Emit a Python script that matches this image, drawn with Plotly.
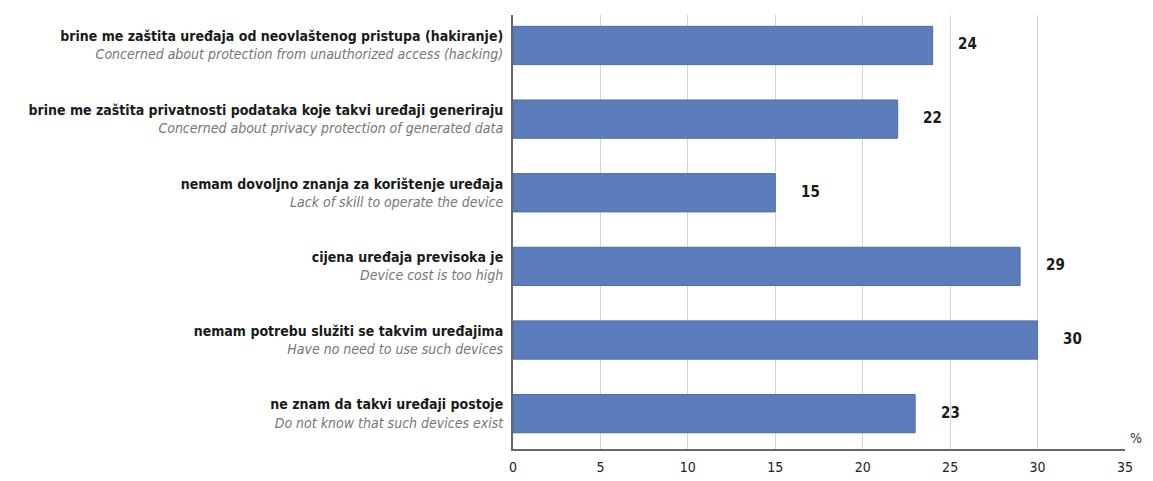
import plotly.graph_objects as go

labels_hr = [
    "brine me zaštita uređaja od neovlaštenog pristupa (hakiranje)",
    "brine me zaštita privatnosti podataka koje takvi uređaji generiraju",
    "nemam dovoljno znanja za korištenje uređaja",
    "cijena uređaja previsoka je",
    "nemam potrebu služiti se takvim uređajima",
    "ne znam da takvi uređaji postoje",
]
labels_en = [
    "Concerned about protection from unauthorized access (hacking)",
    "Concerned about privacy protection of generated data",
    "Lack of skill to operate the device",
    "Device cost is too high",
    "Have no need to use such devices",
    "Do not know that such devices exist",
]
values = [24, 22, 15, 29, 30, 23]
x_ticks = [0, 5, 10, 15, 20, 25, 30, 35]

FONT = "Liberation Sans Narrow, DejaVu Sans Condensed, Roboto Condensed, Arial Narrow, DejaVu Sans, sans-serif"

cats = list(range(len(values)))
ticktext = [
    f"<b>{hr}</b><br><i><span style='color:#767676'>{en}</span></i>"
    for hr, en in zip(labels_hr, labels_en)
]

fig = go.Figure()
fig.add_trace(go.Bar(
    x=values, y=cats, orientation="h", width=0.52,
    marker=dict(color="#5b7dbb", line=dict(color="#4d6ea9", width=1)),
    hoverinfo="skip",
))

for c, v in zip(cats, values):
    fig.add_annotation(x=v, y=c, xref="x", yref="y", text=f"<b>{v}</b>",
                       showarrow=False, xanchor="center", xshift=35, yshift=1,
                       font=dict(family=FONT, size=15, color="#1a1a1a"))

fig.add_annotation(x=1, y=0, xref="paper", yref="paper", text="%",
                   showarrow=False, xanchor="right", yanchor="bottom",
                   xshift=19, yshift=1,
                   font=dict(family=FONT, size=14, color="#333"))

fig.update_layout(
    width=1145, height=473,
    margin=dict(l=505, r=28, t=7, b=32, autoexpand=False),
    paper_bgcolor="white", plot_bgcolor="white",
    showlegend=False,
    font=dict(family=FONT, color="#222"),
    xaxis=dict(range=[0, 35], tickvals=x_ticks, ticktext=[str(t) for t in x_ticks],
               showgrid=True, gridcolor="#d4d4d4", gridwidth=1,
               showline=True, linecolor="#666", linewidth=2,
               zeroline=False, ticks="", ticklabelstandoff=4, automargin=False,
               tickfont=dict(family=FONT, size=14, color="#222")),
    yaxis=dict(range=[5.48, -0.414], tickvals=cats, ticktext=ticktext,
               showgrid=False, showline=True, linecolor="#666", linewidth=2,
               zeroline=False, ticks="", ticklabelstandoff=5, automargin=False,
               tickfont=dict(family=FONT, size=14, color="#1a1a1a")),
)

fig.write_html("out.html")
